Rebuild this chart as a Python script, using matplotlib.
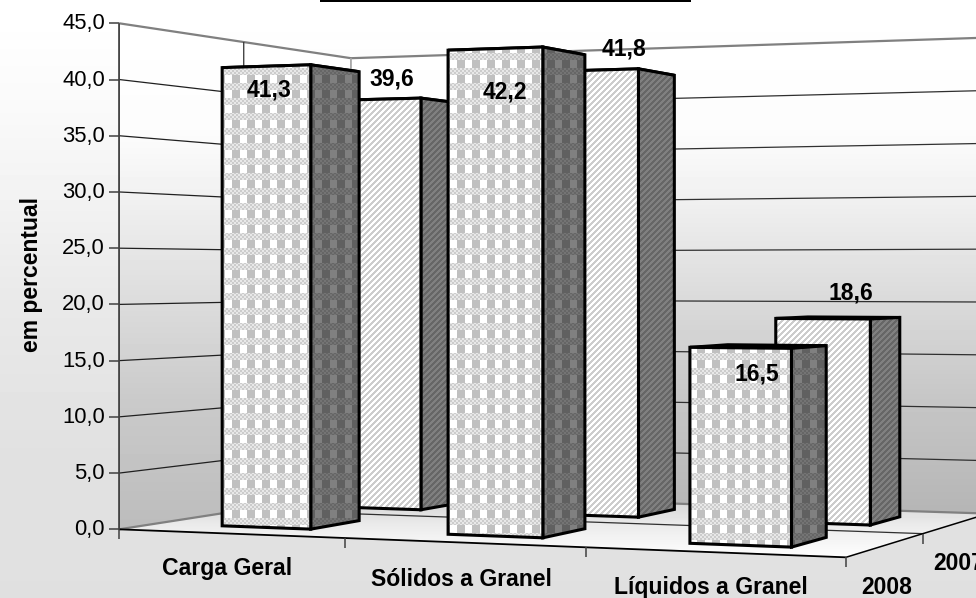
import numpy as np
import matplotlib
matplotlib.use("Agg")
import matplotlib.pyplot as plt
from matplotlib.patches import Polygon, Rectangle

plt.rcParams['font.family'] = ['Liberation Sans', 'DejaVu Sans']

# ---- data ----
categories = ['Carga Geral', 'Sólidos a Granel', 'Líquidos a Granel']
series_names = ['2008', '2007']
values_2008 = [41.3, 42.2, 16.5]
values_2007 = [39.6, 41.8, 18.6]
y_ticks = [0, 5, 10, 15, 20, 25, 30, 35, 40, 45]
y_label = 'em percentual'

W, H = 976, 598
Zmax = 45.0

# ---- camera calibration of the 3-D box: world (cat, depth, value) -> pixel ----
world = np.array([[0,0,0],[3,0,0],[0,2,0],[3,2,0],[0,0,45],[0,2,45],[3,2,45]], float)
pix = np.array([[119,528.5],[846,558],[351,494],[988,513],[119,23.5],[351,58],[988,37.6]], float)
A = []
for (x,y,z),(u,v) in zip(world,pix):
    A.append([x,y,z,1,0,0,0,0,-u*x,-u*y,-u*z,-u])
    A.append([0,0,0,0,x,y,z,1,-v*x,-v*y,-v*z,-v])
P = np.linalg.svd(np.array(A))[2][-1].reshape(3,4)

def proj(x, d, z):
    q = P @ np.array([x, d, z, 1.0])
    return q[0]/q[2], q[1]/q[2]

fig = plt.figure(figsize=(W/100, H/100), dpi=100)
ax = fig.add_axes([0,0,1,1])
ax.set_xlim(0,W); ax.set_ylim(H,0); ax.axis('off')
yy, xx = np.mgrid[0:H,0:W]
z_counter = [1]
def nz():
    z_counter[0]+=1
    return z_counter[0]

def show(img, clip=None):
    im = ax.imshow(img, extent=(0,W,H,0), cmap='gray', vmin=0, vmax=1,
                   interpolation='nearest', aspect='auto', zorder=nz())
    if clip is not None:
        poly = Polygon(clip, closed=True, transform=ax.transData)
        im.set_clip_path(poly)
    return im

def grad(ys, vals):
    return np.interp(yy, ys, np.array(vals)/255.0)

# background
show(grad([15,100,200,300,450,598],[255,250,242,233,225,224]))
# walls
left_wall = [proj(0,0,0),proj(0,2,0),proj(0,2,Zmax),proj(0,0,Zmax)]
back_wall = [proj(0,2,0),proj(3,2,0),proj(3,2,Zmax),proj(0,2,Zmax)]
floor = [proj(0,0,0),proj(3,0,0),proj(3,2,0),proj(0,2,0)]
show(grad([40,130,200,300,400,520],[255,252,240,218,198,180]),back_wall)
show(grad([25,130,200,300,400,530],[255,252,240,220,202,188]),left_wall)
show(grad([494,525,558],[208,235,255]),floor)

def seg(a,b,color,lw):
    ax.plot([a[0],b[0]],[a[1],b[1]],color=color,lw=lw,zorder=nz(),solid_capstyle='butt')

# gridlines on walls
for t in y_ticks[1:-1]:
    seg(proj(0,0,t),proj(0,2,t),'#202020',0.9)
    seg(proj(0,2,t),proj(3,2,t),'#303030',0.9)
seg(proj(0,0,45),proj(0,2,45),'#808080',1.6)
seg(proj(0,2,45),proj(3,2,45),'#808080',1.6)
seg(proj(0,2,0),proj(0,2,45),'#a8a8a8',1.3)
seg(proj(0,1,0),proj(0,1,45),'#303030',0.9)
seg(proj(0,0,0),proj(0,2,0),'#808080',1.6)
seg(proj(0,2,0),proj(3,2,0),'#808080',1.6)
seg(proj(0,1,0),proj(3,1,0),'#303030',0.9)
seg(proj(0,0,0),proj(3,0,0),'#000000',1.3)
seg(proj(3,0,0),proj(3,2,0),'#000000',1.1)
# axis
px0 = proj(0,0,0)
seg(proj(0,0,0),proj(0,0,45),'#404040',1.3)
seg(px0,(px0[0],px0[1]+10),'#404040',1.1)
for t in y_ticks:
    p = proj(0,0,t)
    seg((p[0]-10,p[1]),p,'#404040',1.1)
    ax.text(p[0]-14,p[1]+0.5,f'{t:.1f}'.replace('.',','),ha='right',va='center',fontsize=15.8,color='#000000',zorder=1000)
for i in (1,2,3):
    p = proj(i,0,0)
    seg(p,(p[0],p[1]+10),'#404040',1.1)
p = proj(3,1,0)
seg(p,(p[0],p[1]+10),'#404040',1.1)

# textures
def texture_check(dark):
    tx = (xx%15)<7
    ty = (yy%15)<8
    base = np.where(tx,1.0,0xc0/255)
    dith = ((xx//2+yy//2)%2==0)
    band = np.where(dith,0.91,0.80)
    img = np.where(ty,base,band)
    return img*(0.50 if dark else 1.0)

def texture_diag(dark):
    s = (xx+yy)%6
    img = np.where(s<3,1.0,0.80)
    return img*(0.50 if dark else 1.0)

def draw_bar(i,s,v,tex):
    a,b=0.30,0.29
    x0,x1=i+a,i+1-a
    d0,d1=s+b,s+1-b
    front=[proj(x0,d0,0),proj(x1,d0,0),proj(x1,d0,v),proj(x0,d0,v)]
    side=[proj(x1,d0,0),proj(x1,d1,0),proj(x1,d1,v),proj(x1,d0,v)]
    top=[proj(x0,d0,v),proj(x1,d0,v),proj(x1,d1,v),proj(x0,d1,v)]
    ax.add_patch(Polygon(top,closed=True,fc='#d0d0d0',ec='k',lw=2.2,joinstyle='miter',zorder=nz()))
    show(tex(True),side)
    ax.add_patch(Polygon(side,closed=True,fc='none',ec='k',lw=2.2,joinstyle='miter',zorder=nz()))
    show(tex(False),front)
    ax.add_patch(Polygon(front,closed=True,fc='none',ec='k',lw=2.2,joinstyle='miter',zorder=nz()))

for i,v in enumerate(values_2007):
    draw_bar(i,1,v,texture_diag)
for i,v in enumerate(values_2008):
    draw_bar(i,0,v,texture_check)

# data labels (offset from projected top-centre of the bar, pixels)
lab_off_2008=[(-22,20),(-12,40),(-2,27)]
lab_off_2007=[(-9,-23),(11,-24),(12,-25)]
for i,v in enumerate(values_2008):
    p=proj(i+.5,.5,v)
    ax.text(p[0]+lab_off_2008[i][0],p[1]+lab_off_2008[i][1],f'{v:.1f}'.replace('.',','),ha='center',va='center',
            fontsize=16.5,fontweight='bold',zorder=1001)
for i,v in enumerate(values_2007):
    p=proj(i+.5,1.5,v)
    ax.text(p[0]+lab_off_2007[i][0],p[1]+lab_off_2007[i][1],f'{v:.1f}'.replace('.',','),ha='center',va='center',
            fontsize=16.5,fontweight='bold',zorder=1001)

# axis texts
cat_off=[(-3,35),(-2,37),(-3,35)]
for i,c in enumerate(categories):
    p=proj(i+.5,0,0)
    ax.text(p[0]+cat_off[i][0],p[1]+cat_off[i][1],c,ha='center',va='center',fontsize=16.6,fontweight='bold',zorder=1001)
ax.text(887,587,series_names[0],ha='center',va='center',fontsize=16.5,fontweight='bold',zorder=1001)
ax.text(933,564,series_names[1],ha='left',va='center',fontsize=16.5,fontweight='bold',zorder=1001)
ax.text(32,275,y_label,rotation=90,ha='center',va='center',fontsize=16.5,fontweight='bold',zorder=1001)

# title box bottom edge
ax.add_patch(Rectangle((319.5,0),371.5,2,fc='k',ec='none',zorder=1002))

fig.savefig('out.png',dpi=100)
